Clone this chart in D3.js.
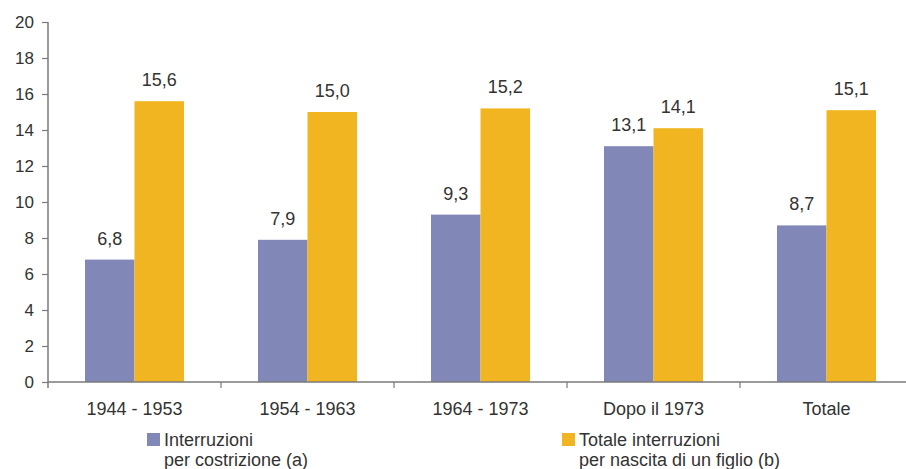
<!DOCTYPE html>
<html>
<head>
<meta charset="utf-8">
<script src="https://cdn.jsdelivr.net/npm/d3@7"></script>
<style>
  html, body { margin: 0; padding: 0; background: #fff; }
  svg { display: block; font-family: "Liberation Sans", Arial, sans-serif; }
</style>
</head>
<body>
<svg id="chart" width="906" height="469"></svg>
<script>
// Cohorts and the two series (percent)
const categories = ["1944 - 1953", "1954 - 1963", "1964 - 1973", "Dopo il 1973", "Totale"];
const seriesNames = ["Interruzioni\nper costrizione (a)", "Totale interruzioni\nper nascita di un figlio (b)"];
const costrizione = [6.8, 7.9, 9.3, 13.1, 8.7];
const nascitaFiglio = [15.6, 15.0, 15.2, 14.1, 15.1];
const yTicks = [0, 2, 4, 6, 8, 10, 12, 14, 16, 18, 20];
const colors = ["#8188B8", "#F1B521"];

const svg = d3.select("#chart");
const plot = { left: 48, right: 913, top: 22, bottom: 382 };

const x = d3.scaleBand().domain(categories).range([plot.left, plot.right]).padding(0);
const xs = d3.scaleBand().domain([0, 1]).range([0, x.bandwidth()]).paddingInner(0).paddingOuter(0.747);
const y = d3.scaleLinear().domain([0, 20]).range([plot.bottom, plot.top]);

const fmt = v => d3.format(".1f")(v).replace(".", ",");
const textColor = "#333";
const axisColor = "#7a7a7a";

// Bars
const rows = categories.map((c, i) => ({ cat: c, vals: [costrizione[i], nascitaFiglio[i]] }));
const groups = svg.append("g").selectAll("g").data(rows).join("g")
  .attr("transform", d => `translate(${x(d.cat)},0)`);

groups.selectAll("rect").data(d => d.vals.map((v, k) => ({ v, k }))).join("rect")
  .attr("x", d => xs(d.k))
  .attr("width", xs.bandwidth())
  .attr("y", d => y(d.v))
  .attr("height", d => y(0) - y(d.v))
  .attr("fill", d => colors[d.k]);

groups.selectAll("text").data(d => d.vals.map((v, k) => ({ v, k }))).join("text")
  .attr("x", d => xs(d.k) + xs.bandwidth() / 2)
  .attr("y", d => y(d.v) - 15)
  .attr("text-anchor", "middle")
  .attr("font-size", 18)
  .attr("fill", textColor)
  .text(d => fmt(d.v));

// Y axis
const yAxis = svg.append("g")
  .attr("transform", `translate(${plot.left},0)`)
  .call(d3.axisLeft(y).tickValues(yTicks).tickSize(6).tickPadding(8).tickFormat(d3.format("d")));
yAxis.select(".domain").attr("d", `M0,${plot.top}V${plot.bottom + 6}`).attr("stroke", axisColor).attr("stroke-width", 1.5);
yAxis.selectAll(".tick line").attr("stroke", axisColor).attr("stroke-width", 1.2);
yAxis.selectAll(".tick text").attr("font-size", 17).attr("fill", textColor)
  .attr("font-family", "Liberation Sans, Arial, sans-serif");

// X axis: baseline with boundary ticks between categories
const xAxis = svg.append("g").attr("transform", `translate(0,${plot.bottom})`);
xAxis.append("line").attr("x1", plot.left).attr("x2", plot.right)
  .attr("stroke", axisColor).attr("stroke-width", 1.5);
xAxis.selectAll("line.b").data(categories.slice(1)).join("line").attr("class", "b")
  .attr("x1", d => x(d)).attr("x2", d => x(d)).attr("y1", 0).attr("y2", 6)
  .attr("stroke", axisColor).attr("stroke-width", 1.2);
xAxis.selectAll("text").data(categories).join("text")
  .attr("x", d => x(d) + x.bandwidth() / 2)
  .attr("y", 33)
  .attr("text-anchor", "middle")
  .attr("font-size", 18)
  .attr("fill", textColor)
  .text(d => d);

// Legend
const legendX = [147, 562];
const legend = svg.append("g").selectAll("g").data(seriesNames).join("g")
  .attr("transform", (d, i) => `translate(${legendX[i]},433)`);
legend.append("rect").attr("width", 13).attr("height", 13).attr("fill", (d, i) => colors[i]);
legend.append("text")
  .attr("font-size", 18)
  .attr("fill", textColor)
  .selectAll("tspan").data(d => d.split("\n")).join("tspan")
  .attr("x", 17)
  .attr("y", (d, j) => 13 + j * 19.5)
  .text(d => d);
</script>
</body>
</html>
